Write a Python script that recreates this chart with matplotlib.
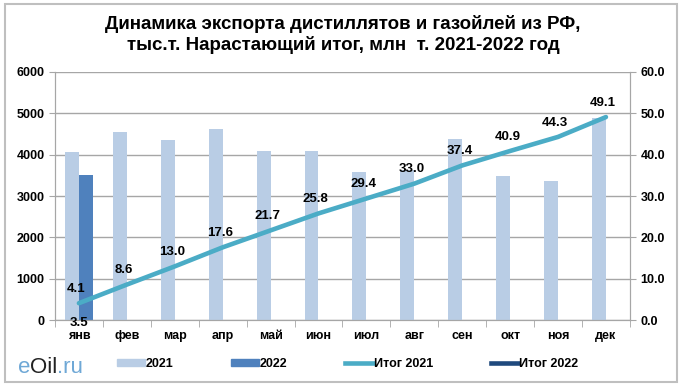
import matplotlib
matplotlib.use("Agg")
import matplotlib.pyplot as plt
from matplotlib.patches import Rectangle, Patch
from matplotlib.lines import Line2D
from matplotlib.ticker import FormatStrFormatter
import numpy as np

months = ["янв", "фев", "мар", "апр", "май", "июн",
          "июл", "авг", "сен", "окт", "ноя", "дек"]
export_2021 = [4070, 4550, 4350, 4620, 4090, 4090, 3580, 3620, 4380, 3490, 3370, 4890]
export_2022 = [3520]
total_2021 = [4.1, 8.6, 13.0, 17.6, 21.7, 25.8, 29.4, 33.0, 37.4, 40.9, 44.3, 49.1]
total_2022 = [3.5]

C_2021 = "#b9cde5"
C_2022 = "#4f81bd"
C_T21 = "#4bacc6"
C_T22 = "#1f497d"
GRID = "#a6a6a6"

plt.rcParams["font.family"] = ["Liberation Sans", "DejaVu Sans"]

fig = plt.figure(figsize=(6.82, 3.89), dpi=100)
fig.patches.append(Rectangle((0.008, 0.018), 0.984, 0.972, transform=fig.transFigure,
                             fill=False, edgecolor="#bfbfbf", linewidth=1.5))

ax = fig.add_axes([0.0806, 0.177, 0.843, 0.638])
ax2 = ax.twinx()

x = np.arange(len(months))
w = 0.29
ax.bar(x - w / 2, export_2021, width=w, color=C_2021, zorder=2)
ax.bar(x[:len(export_2022)] + w / 2, export_2022, width=w, color=C_2022, zorder=2)

ax.set_ylim(0, 6000)
ax.set_yticks(range(0, 6001, 1000))
ax.set_xlim(-0.5, len(months) - 0.5)
ax.set_xticks(x)
ax.set_xticklabels(months, fontweight="bold", fontsize=9)
ax.set_xticks(np.arange(-0.5, len(months)), minor=True)
ax.tick_params(axis="x", which="major", length=0, pad=7)
ax.tick_params(axis="x", which="minor", length=5, color=GRID)
ax.tick_params(axis="y", length=4, color=GRID, labelsize=9)
for t in ax.get_yticklabels():
    t.set_fontweight("bold")
ax.grid(axis="y", color=GRID, linewidth=1, zorder=0)
ax.set_axisbelow(True)

ax2.plot(x, total_2021, color=C_T21, linewidth=3.3, solid_capstyle="round", zorder=3)
ax2.plot(x[:len(total_2022)], total_2022, color=C_T22, linewidth=3.3, zorder=3)
ax2.set_ylim(0, 60)
ax2.set_yticks(range(0, 61, 10))
ax2.yaxis.set_major_formatter(FormatStrFormatter("%.1f"))
ax2.tick_params(axis="y", length=4, color=GRID, labelsize=9)
for t in ax2.get_yticklabels():
    t.set_fontweight("bold")

for i, v in enumerate(total_2021):
    ax2.annotate(f"{v:.1f}", (x[i], v), xytext=(-2, 6), textcoords="offset points",
                 ha="center", va="bottom", fontsize=9.5, fontweight="bold")
for i, v in enumerate(total_2022):
    ax2.annotate(f"{v:.1f}", (x[i], v), xytext=(0, -8), textcoords="offset points",
                 ha="center", va="top", fontsize=9.5, fontweight="bold")

for a in (ax, ax2):
    for s in a.spines.values():
        s.set_color(GRID)
    a.spines["top"].set_visible(False)

fig.text(0.503, 0.962, "Динамика экспорта дистиллятов и газойлей из РФ,\n"
         "тыс.т. Нарастающий итог, млн  т. 2021-2022 год",
         ha="center", va="top", fontsize=13.5, fontweight="bold", linespacing=1.2)

handles = [Patch(color=C_2021), Patch(color=C_2022),
           Line2D([], [], color=C_T21, linewidth=3.3),
           Line2D([], [], color=C_T22, linewidth=3.3)]
fig.legend(handles, ["2021", "2022", "Итог 2021", "Итог 2022"], ncol=4,
           loc="center", bbox_to_anchor=(0.51, 0.065), frameon=False,
           prop={"size": 9, "weight": "bold"}, handlelength=2.2, handleheight=0.45,
           columnspacing=4.6, handletextpad=0.1)

# eOil.ru logo, pieces chained one after another
t = fig.text(0.026, 0.04, "e", color="#6fa8d6", fontsize=16, va="baseline")
t = fig.add_artist(matplotlib.text.Annotation(
    "Oil", xy=(1, 0), xycoords=t, color="#222222", fontsize=16, va="bottom"))
fig.add_artist(matplotlib.text.Annotation(
    ".ru", xy=(1, 0), xycoords=t, color="#6fa8d6", fontsize=16, va="bottom"))

fig.savefig("out.png", dpi=100)
